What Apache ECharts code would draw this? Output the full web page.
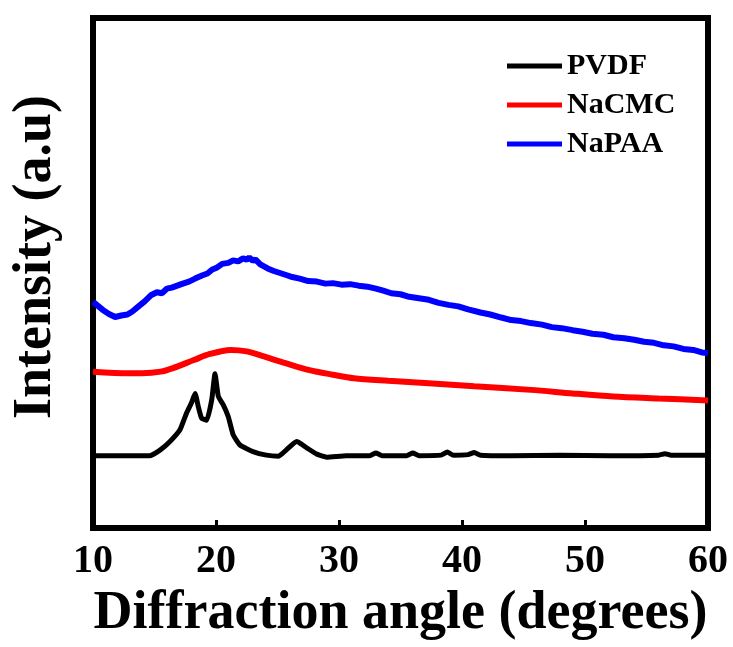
<!DOCTYPE html>
<html>
<head>
<meta charset="utf-8">
<script src="https://cdn.jsdelivr.net/npm/echarts@6/dist/echarts.min.js"></script>
<style>
html,body{margin:0;padding:0;background:#fff;}
#chart{width:733px;height:647px;}
</style>
</head>
<body>
<div id="chart"></div>
<script>
// Diffraction angle ticks
var xTicks = [10, 20, 30, 40, 50, 60];

// PVDF
var pvdfAngle = [10,12,14,14.6,15.45,16.26,17.07,17.6,18.0,18.3,18.56,18.83,19.24,19.65,19.92,20.19,20.6,21.0,21.4,21.95,23.0,24.1,25.1,25.7,26.56,27.4,28.2,29.0,30.6,32.5,33.0,33.5,35.5,36.0,36.5,38.3,38.8,39.3,40.5,41.0,41.5,44,48,52,56,56.5,57,60];
var pvdfValue = [13.9,13.9,13.9,13.9,15.0,16.7,19.0,22.3,24.3,26.2,23.6,21.3,20.9,24.9,30.1,25.6,23.9,21.6,18.0,16.0,14.7,14.0,13.8,15.0,16.7,15.4,14.2,13.6,13.9,13.9,14.4,13.9,13.9,14.4,13.9,14.0,14.6,14.0,14.1,14.5,14.0,13.9,14.0,13.9,14.0,14.3,14.0,14.0];

// NaCMC
var nacmcAngle = [10,12.9,14,15.5,16.5,18.2,19.5,21.2,22.5,23.9,25.5,27.6,29.5,31.2,34,37.3,41,45.6,49,52.3,56,60];
var nacmcValue = [30.5,30.2,30.2,30.5,31.2,32.8,34.0,34.8,34.5,33.5,32.3,30.8,29.9,29.2,28.7,28.2,27.6,26.9,26.2,25.6,25.2,24.8];

// NaPAA
var napaaAngle = [10,10.4,10.8,11.3,11.8,12.3,12.8,13.2,13.7,14.2,14.7,15.2,15.6,16.0,16.4,16.85,17.3,17.8,18.3,18.86,19.3,19.7,20.1,20.5,21.0,21.4,21.8,22.2,22.5,22.7,23.0,23.2,23.6,24.2,24.7,25.2,25.7,26.2,26.8,27.5,28.2,28.9,29.5,30.2,30.9,31.6,32.3,33,33.6,34.25,35,35.7,36.5,37.3,38.1,38.9,39.7,40.5,41.5,42.3,43.2,44.0,44.8,45.6,46.5,47.3,48.1,49.0,49.8,50.6,51.5,52.3,53.2,54.0,54.8,55.6,56.4,57.2,58.0,58.8,59.5,60];
var napaaValue = [44.3,43.5,42.7,41.9,41.3,41.6,41.8,42.4,43.4,44.4,45.6,46.2,46.0,46.9,47.1,47.5,47.9,48.3,48.9,49.5,49.9,50.7,51.1,51.8,52.0,52.5,52.3,52.9,52.6,53.1,52.4,52.7,51.7,50.9,50.4,50.0,49.6,49.2,48.9,48.4,48.3,47.9,48.0,47.7,47.8,47.5,47.3,46.9,46.5,46.0,45.8,45.3,45.0,44.7,44.1,43.7,43.4,42.8,42.2,41.8,41.2,40.7,40.5,40.1,39.8,39.3,39.1,38.7,38.4,38.0,37.8,37.3,37.1,36.8,36.4,36.2,35.7,35.5,35.0,34.8,34.3,34.2];

function pairs(a, v) { return a.map(function (x, i) { return [x, v[i]]; }); }

var font = '"Liberation Serif", "Times New Roman", serif';
var chart = echarts.init(document.getElementById('chart'), null, {renderer: 'canvas'});
chart.setOption({
  animation: false,
  backgroundColor: '#fff',
  grid: {left: 93, right: 25, top: 18, bottom: 119, show: true, borderColor: '#000', borderWidth: 6, backgroundColor: 'transparent'},
  legend: {
    orient: 'vertical', left: 502, top: 46, itemWidth: 55, itemHeight: 5, itemGap: 9,
    icon: 'rect',
    textStyle: {fontFamily: font, fontWeight: 'bold', fontSize: 30, color: '#000'},
    data: ['PVDF', 'NaCMC', 'NaPAA']
  },
  xAxis: {
    type: 'value', min: xTicks[0], max: xTicks[xTicks.length - 1], interval: 10,
    name: 'Diffraction angle (degrees)', nameLocation: 'middle', nameGap: 54,
    nameTextStyle: {fontFamily: font, fontWeight: 'bold', fontSize: 54, color: '#000'},
    axisLine: {show: false},
    axisTick: {show: true, inside: true, length: 6, lineStyle: {color: '#000', width: 3}},
    axisLabel: {fontFamily: font, fontWeight: 'bold', fontSize: 40, color: '#000', margin: 14},
    splitLine: {show: false}
  },
  yAxis: {
    type: 'value', min: -0.4, max: 100.4,
    name: 'Intensity (a.u)', nameLocation: 'middle', nameGap: 30,
    nameTextStyle: {fontFamily: font, fontWeight: 'bold', fontSize: 54, color: '#000', padding: [0, 0, 0, 32]},
    axisLine: {show: false}, axisTick: {show: false}, axisLabel: {show: false},
    splitLine: {show: false}
  },
  series: [
    {name: 'PVDF', type: 'line', data: pairs(pvdfAngle, pvdfValue), showSymbol: false, smooth: 0.15, color: '#000000', lineStyle: {width: 5, color: '#000000'}},
    {name: 'NaCMC', type: 'line', data: pairs(nacmcAngle, nacmcValue), showSymbol: false, smooth: 0.3, color: '#ff0000', lineStyle: {width: 6, color: '#ff0000'}},
    {name: 'NaPAA', type: 'line', data: pairs(napaaAngle, napaaValue), showSymbol: false, color: '#0000ff', lineStyle: {width: 6, color: '#0000ff'}}
  ]
});
</script>
</body>
</html>
